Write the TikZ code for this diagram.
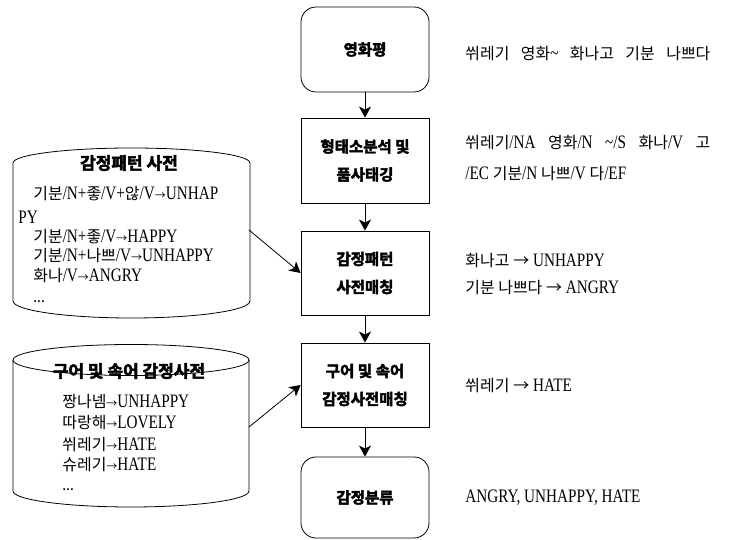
\documentclass[tikz,border=0pt]{standalone}
\usepackage{fontspec}
\setmainfont{Liberation Serif}[FakeStretch=0.8]
\newfontfamily\kr{Noto Sans CJK KR}[Scale=0.84]
\newfontfamily\krb{Noto Sans CJK KR Bold}[FakeBold=3]
\newfontfamily\sym{Noto Sans CJK KR}
\usetikzlibrary{arrows.meta}
\newcommand\hg[1]{{\kr #1}}
\newcommand\bigarr{{\sym\fontsize{16}{20}\selectfont →}}
\newcommand\smarr{{\sym\fontsize{11}{12}\selectfont →}}
\begin{document}
\begin{tikzpicture}[x=1pt,y=-1pt,
  line width=0.8pt,
  arr/.style={-{Stealth[length=11pt,width=12pt,inset=3pt]}, line width=0.8pt},
  procbox/.style={draw, minimum width=128pt, inner sep=0pt, align=center,
    font=\krb\fontsize{15.5}{28}\selectfont},
  termbox/.style={procbox, rounded corners=15pt},
  body/.style={anchor=base west, inner sep=0pt, font=\fontsize{19}{20}\selectfont},
  cyltitle/.style={inner sep=0pt, font=\krb\fontsize{17}{20}\selectfont}]
\useasboundingbox (0,0) rectangle (732,540);

% process column
\node[termbox, minimum height=85pt] (b1) at (365,49.5) {영화평};
\node[procbox, minimum height=85pt] (b2) at (365,160.5) {형태소분석 및\\품사태깅};
\node[procbox, minimum height=84pt] (b3) at (365,273) {감정패턴\\사전매칭};
\node[procbox, minimum height=84pt] (b4) at (365,385) {구어 및 속어\\감정사전매칭};
\node[termbox, minimum height=81pt] (b5) at (365,497.5) {감정분류};

\draw[arr] (b1) -- (b2);
\draw[arr] (b2) -- (b3);
\draw[arr] (b3) -- (b4);
\draw[arr] (b4) -- (b5);

% cylinder 1
\draw (13,163) arc[start angle=180,end angle=0,x radius=118.5pt,y radius=15pt]
  -- (250,301) arc[start angle=0,end angle=-180,x radius=118.5pt,y radius=17pt] -- cycle;
\node[cyltitle] (c1t) at (129,163) {감정패턴 사전};
\node[body] (c1a) at (33,200) {\hg{기분}/N+\hg{좋}/V+\hg{않}/V\smarr UNHAP};
\node[body] (c1b) at (18,224) {PY};
\node[body] (c1c) at (33,243) {\hg{기분}/N+\hg{좋}/V\smarr HAPPY};
\node[body] (c1d) at (33,262) {\hg{기분}/N+\hg{나쁘}/V\smarr UNHAPPY};
\node[body] (c1e) at (33,282) {\hg{화나}/V\smarr ANGRY};
\node[body] (c1f) at (33,303) {...};
\coordinate (c1out) at (249,230);

% cylinder 2
\draw (131,360) ellipse [x radius=118pt, y radius=15.5pt];
\draw (13,360) -- (13,491) arc[start angle=180,end angle=360,x radius=118pt,y radius=16pt] -- (249,360);
\node[cyltitle] (c2t) at (129,371) {구어 및 속어 감정사전};
\node[body] (c2a) at (62,408) {\hg{짱나넴}\smarr UNHAPPY};
\node[body] (c2b) at (62,429) {\hg{따랑해}\smarr LOVELY};
\node[body] (c2c) at (62,450) {\hg{쒸레기}\smarr HATE};
\node[body] (c2d) at (62,471) {\hg{슈레기}\smarr HATE};
\node[body] (c2e) at (62,490) {...};
\coordinate (c2out) at (249,427);

\draw[arr] (c1out) -- (b3.west);
\draw[arr] (c2out) -- (b4.west);

% right-hand examples
\node[body] (r1) at (465,60) {\makebox[245pt][s]{\hg{쒸레기} \hg{영화}\textasciitilde{} \hg{화나고} \hg{기분} \hg{나쁘다}}};
\node[body] (r2) at (465,149) {\makebox[245pt][s]{\hg{쒸레기}/NA \hg{영화}/N \textasciitilde/S \hg{화나}/V \hg{고}}};
\node[body] (r3) at (465,180) {/EC \hg{기분}/N \hg{나쁘}/V \hg{다}/EF};
\node[body] (r4) at (465,267) {\hg{화나고} \bigarr{} UNHAPPY};
\node[body] (r5) at (465,294) {\hg{기분 나쁘다} \bigarr{} ANGRY};
\node[body] (r6) at (465,392) {\hg{쒸레기} \bigarr{} HATE};
\node[body] (r7) at (465,503) {ANGRY, UNHAPPY, HATE};
\end{tikzpicture}
\end{document}
